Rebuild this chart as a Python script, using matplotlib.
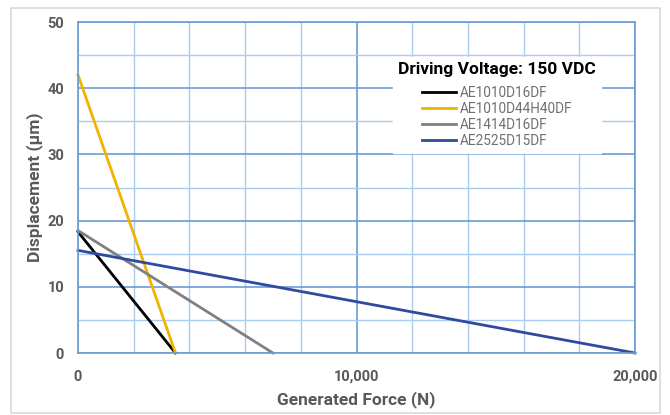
import matplotlib
matplotlib.use("Agg")
import matplotlib.pyplot as plt
from matplotlib.patches import Rectangle
from matplotlib.ticker import MultipleLocator, FuncFormatter

plt.rcParams['font.family'] = ['Roboto', 'DejaVu Sans']

series_names = ["AE1010D16DF", "AE1010D44H40DF", "AE1414D16DF", "AE2525D15DF"]
series_force = [[0, 3500], [0, 3500], [0, 7000], [0, 20000]]
series_disp = [[18.3, 0], [42.0, 0], [18.5, 0], [15.5, 0]]
series_colors = ["#000000", "#F2B200", "#808080", "#2F4A9E"]
legend_title = "Driving Voltage: 150 VDC"

fig = plt.figure(figsize=(6.7, 4.15), dpi=100)
fig.patches.append(Rectangle((11/670, 2/415), 649/670, 405/415, transform=fig.transFigure,
                             fill=False, edgecolor="#D9D9D9", linewidth=1.2))
ax = fig.add_axes([78/670, 62/415, 557/670, 331/415])

major_c = "#6C9BD2"
minor_c = "#A8CBEE"
ax.set_xlim(0, 20000)
ax.set_ylim(0, 50)
ax.xaxis.set_major_locator(MultipleLocator(10000))
ax.xaxis.set_minor_locator(MultipleLocator(2000))
ax.yaxis.set_major_locator(MultipleLocator(10))
ax.yaxis.set_minor_locator(MultipleLocator(5))
ax.grid(which="minor", color=minor_c, linewidth=1.0)
ax.grid(which="major", color=major_c, linewidth=1.2)
ax.set_axisbelow(True)
for s in ["left", "bottom", "top", "right"]:
    ax.spines[s].set_color(major_c)
    ax.spines[s].set_linewidth(1.2)
ax.tick_params(which="both", length=0)
ax.tick_params(axis="x", pad=12)
ax.tick_params(axis="y", pad=10)
ax.xaxis.set_major_formatter(FuncFormatter(lambda v, p: f"{int(v):,}"))
for lab in ax.get_xticklabels() + ax.get_yticklabels():
    lab.set_fontweight("bold")
    lab.set_color("#595959")
    lab.set_fontsize(10.5)

for name, xs, ys, c in zip(series_names, series_force, series_disp, series_colors):
    ax.plot(xs, ys, color=c, linewidth=2.0, label=name, clip_on=False)

ax.set_xlabel("Generated Force (N)", fontsize=12.5, fontweight="bold", color="#595959", labelpad=5)
ax.set_ylabel("Displacement (µm)", fontsize=12.5, fontweight="bold", color="#595959")
ax.yaxis.set_label_coords(-0.063, 0.5)

leg = ax.legend(loc="upper center", bbox_to_anchor=(0.752, 0.915), frameon=True, fancybox=False,
                edgecolor="white", facecolor="white", framealpha=1, fontsize=9.8,
                handlelength=2.5, handletextpad=0.3, labelspacing=0.15,
                title=legend_title, title_fontproperties={"weight": "bold", "size": 12.5})
leg._legend_box.sep = 6
for t in leg.get_texts():
    t.set_color("#707070")

fig.savefig("out.png", dpi=100)
